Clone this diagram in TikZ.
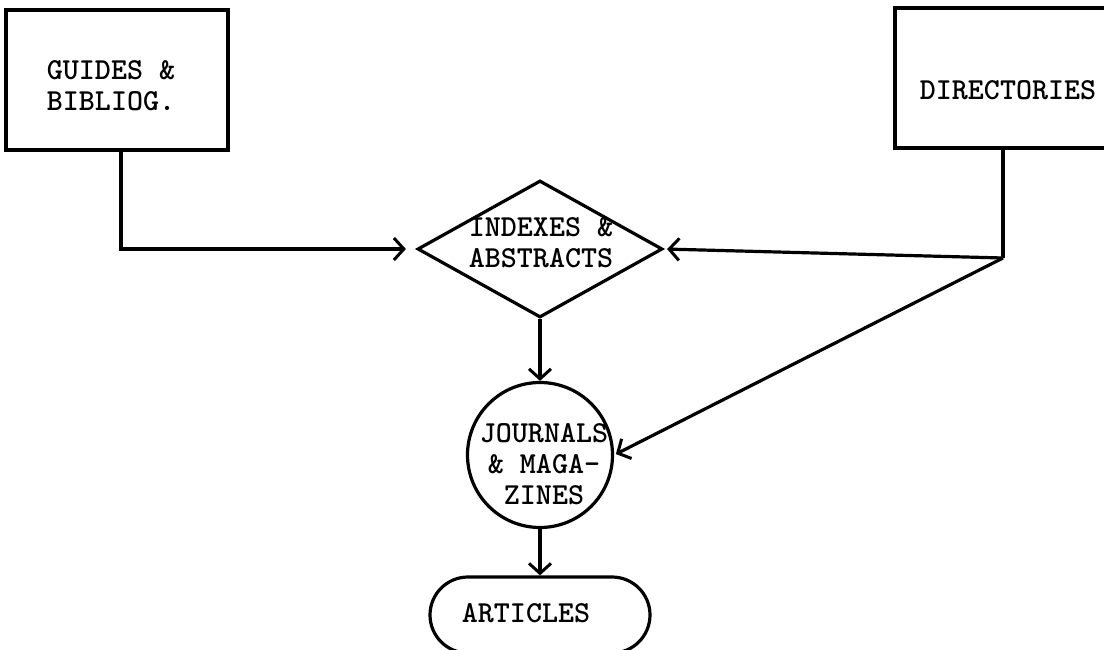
\documentclass[tikz,border=0pt]{standalone}
\usetikzlibrary{arrows.meta,shapes.geometric,shapes.misc}
\begin{document}
\begin{tikzpicture}[x=1pt,y=-1pt,
  every node/.style={font=\ttfamily\bfseries\fontsize{30.5}{31}\selectfont},
  shp/.style={draw,line width=3.2pt,inner sep=0pt},
  txt/.style={align=center,inner sep=0pt},
  arr/.style={line width=3.2pt,-{Straight Barb[length=10pt,width=22pt,line width=3pt]}},
  ln/.style={line width=3.2pt}]
\useasboundingbox (0,0) rectangle (1104,650);
% boxes
\node[shp,rectangle,minimum width=222pt,minimum height=140pt] (guides) at (117,80) {};
\node[txt,align=left] (guidestxt) at (111,86) {GUIDES \&\\BIBLIOG.};
\node[shp,rectangle,minimum width=222pt,minimum height=140pt] (dir) at (1006,78) {};
\node[txt] (dirtxt) at (1008,90) {DIRECTORIES};
% diamond
\node[shp,diamond,aspect=1.79,minimum width=245pt,minimum height=137pt] (idx) at (540,249) {};
\node[txt] (idxtxt) at (541,243) {INDEXES \&\\ABSTRACTS};
% circle
\node[shp,circle,minimum size=145pt] (jm) at (540,455) {};
\node[txt] (jmtxt) at (544,464) {JOURNALS\\\& MAGA-\\ZINES};
% terminal
\node[shp,rounded rectangle,minimum width=220pt,minimum height=76pt] (art) at (540,615) {};
\node[txt] (arttxt) at (526,613) {ARTICLES};
% connectors
\coordinate (corner) at (1003,258);
\draw[arr,shorten >=10pt] ([xshift=4pt]guides.south) |- (idx.west);
\draw[ln] (dir.south -| corner) -- (corner);
\draw[arr,shorten >=3pt] (corner) -- (idx.east);
\draw[arr,shorten >=2pt] (corner) -- (jm.east);
\draw[arr] (idx.south) -- (jm.north);
\draw[arr] (jm.south) -- (art.north);
\end{tikzpicture}
\end{document}
